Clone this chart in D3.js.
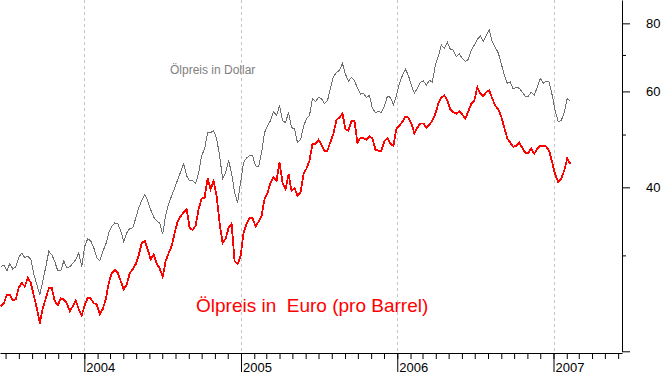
<!DOCTYPE html>
<html>
<head>
<meta charset="utf-8">
<script src="https://cdn.jsdelivr.net/npm/d3@7"></script>
<style>
  body { margin: 0; background: #fff; }
  svg { display: block; font-family: "Liberation Sans", Arial, sans-serif; }
</style>
</head>
<body>
<svg id="chart" width="663" height="373"></svg>
<script>
(function () {
  "use strict";

  // weekly closes, first week ending 2003-06-20
  const firstWeek = new Date(2003, 5, 20);

  // Ölpreis in Dollar (grau)
  const usd = [
    28.6, 28.8, 28.1, 29.0, 28.3, 28.6, 29.8, 30.3, 29.7, 29.9,
    29.5, 27.7, 26.5, 25.4, 26.9, 28.6, 30.5, 30.1, 29.2, 28.1,
    28.1, 29.3, 28.5, 28.6, 29.0, 29.5, 30.3, 28.6, 31.2, 32.2,
    31.9, 31.0, 29.7, 29.3, 30.5, 31.4, 33.0, 33.9, 34.4, 34.3,
    33.3, 31.8, 33.0, 33.6, 33.7, 35.1, 36.7, 37.8, 38.8, 37.8,
    36.4, 35.3, 34.7, 34.4, 32.8, 35.6, 37.3, 38.6, 39.9, 41.3,
    42.7, 44.2, 42.0, 41.1, 41.1, 40.6, 42.5, 45.7, 47.1, 50.4,
    50.4, 50.8, 49.2, 45.7, 41.5, 42.5, 44.8, 42.5, 39.1, 37.5,
    40.8, 44.4, 45.3, 45.7, 45.7, 43.8, 43.6, 46.3, 50.4, 51.9,
    53.0, 55.1, 54.2, 56.5, 53.0, 52.6, 54.9, 51.5, 51.2, 48.3,
    48.9, 51.7, 53.5, 54.2, 58.2, 57.5, 58.5, 58.2, 57.0, 57.7,
    60.8, 63.9, 65.0, 65.6, 67.5, 64.5, 62.7, 63.6, 62.9, 60.8,
    59.3, 59.5, 58.5, 59.0, 55.8, 54.9, 55.1, 54.9, 56.3, 58.8,
    58.5, 56.7, 59.0, 62.1, 64.2, 65.9, 64.2, 61.6, 59.5, 60.8,
    62.4, 62.7, 61.6, 62.9, 62.4, 67.0, 69.6, 73.0, 72.0, 73.9,
    71.7, 71.4, 69.6, 70.3, 69.0, 68.1, 68.7, 71.4, 73.0, 74.8,
    75.8, 74.2, 76.1, 77.8, 73.9, 72.3, 70.6, 67.5, 64.2, 62.1,
    62.4, 60.6, 61.1, 60.8, 59.8, 58.8, 58.8, 59.8, 59.0, 61.1,
    63.4, 62.1, 62.7, 62.4, 59.0, 55.3, 52.8, 53.0, 54.9, 58.2,
    57.7
  ];

  // Ölpreis in Euro (rot)
  const eur = [
    24.2, 24.5, 25.4, 25.4, 24.8, 24.9, 26.2, 26.7, 26.3, 27.3,
    26.7, 25.3, 24.0, 22.5, 24.0, 25.0, 26.1, 26.1, 24.7, 24.3,
    25.0, 24.9, 24.5, 23.7, 24.2, 24.8, 23.9, 23.3, 24.3, 25.1,
    25.0, 24.5, 24.4, 23.4, 23.9, 24.9, 26.7, 27.8, 28.2, 27.9,
    26.9, 26.0, 26.5, 27.8, 28.3, 28.9, 30.0, 31.6, 31.9, 30.8,
    29.5, 30.1, 29.0, 28.4, 27.4, 29.3, 30.3, 31.2, 33.0, 34.6,
    35.4, 36.0, 36.5, 33.7, 33.4, 34.0, 36.5, 38.1, 38.3, 41.5,
    39.7, 41.1, 38.6, 34.4, 31.6, 32.2, 33.7, 34.3, 29.3, 28.9,
    29.9, 33.0, 34.3, 35.2, 35.1, 33.9, 34.6, 35.4, 38.1, 39.1,
    40.8, 41.7, 41.1, 44.4, 40.8, 39.7, 42.3, 39.4, 39.9, 38.6,
    39.1, 42.3, 43.3, 44.8, 48.1, 48.1, 48.9, 47.9, 46.7, 46.7,
    48.5, 50.2, 53.2, 53.7, 54.6, 51.2, 50.8, 53.0, 53.0, 48.3,
    49.3, 49.2, 48.9, 49.6, 49.2, 46.9, 46.7, 46.7, 48.7, 49.2,
    48.1, 47.7, 51.2, 51.9, 52.8, 53.9, 53.7, 52.4, 50.2, 51.5,
    52.4, 52.4, 51.5, 52.1, 53.0, 54.6, 57.0, 58.5, 59.0, 57.7,
    55.6, 54.9, 54.6, 55.1, 54.4, 53.5, 55.1, 57.0, 57.7, 61.1,
    59.5, 58.8, 59.8, 60.3, 58.2, 56.5, 55.6, 53.9, 51.5, 49.2,
    48.3, 47.5, 47.7, 48.3, 47.3, 46.3, 46.3, 47.1, 46.1, 47.1,
    47.7, 47.7, 47.5, 46.7, 44.4, 42.2, 40.9, 41.5, 42.9, 45.2,
    44.2
  ];

  const priceTicks = [20, 30, 40, 50, 60, 70, 80];
  const priceMajor = [20, 40, 60, 80];
  const priceLabels = [40, 60, 80];
  const years = [2004, 2005, 2006, 2007];

  const dates = usd.map((_, i) => d3.timeDay.offset(firstWeek, 7 * i));

  const svg = d3.select("#chart");
  const plotRight = 622;
  const axisY = 353;

  svg.append("rect").attr("width", 663).attr("height", 373).attr("fill", "#fff");

  const x = d3.scaleTime()
    .domain([new Date(2003, 5, 18), new Date(2007, 5, 10)])
    .range([0, plotRight]);
  const y = d3.scaleLog()
    .domain([20, 88.3])
    .range([351.3, 0]);

  // Jahres-Gitterlinien
  svg.append("g").selectAll("line")
    .data(years)
    .join("line")
    .attr("x1", (d) => Math.round(x(new Date(d, 0, 1))) + 0.5)
    .attr("x2", (d) => Math.round(x(new Date(d, 0, 1))) + 0.5)
    .attr("y1", 0)
    .attr("y2", axisY)
    .attr("stroke", "#c4c4c4")
    .attr("stroke-dasharray", "3,3");

  const line = d3.line()
    .x((d, i) => x(dates[i]))
    .y((d) => y(d));

  svg.append("path")
    .datum(usd)
    .attr("fill", "none")
    .attr("stroke", "#6f6f6f")
    .attr("stroke-width", 1)
    .attr("shape-rendering", "crispEdges")
    .attr("d", line);

  svg.append("path")
    .datum(eur)
    .attr("fill", "none")
    .attr("stroke", "#ff0000")
    .attr("stroke-width", 1.8)
    .attr("shape-rendering", "crispEdges")
    .attr("d", line);

  svg.append("text")
    .attr("x", 170)
    .attr("y", 74)
    .attr("fill", "#808080")
    .attr("font-size", 12)
    .text("Ölpreis in Dollar");

  svg.append("text")
    .attr("x", 196)
    .attr("y", 312)
    .attr("fill", "#ff0000")
    .attr("font-size", 19)
    .style("white-space", "pre")
    .text("Ölpreis in  Euro (pro Barrel)");

  // x-Achse: Monatsstriche
  const xMonths = svg.append("g")
    .attr("transform", `translate(0,${axisY})`)
    .call(d3.axisBottom(x)
      .ticks(d3.timeMonth.every(1))
      .tickSize(6)
      .tickSizeOuter(0)
      .tickFormat(""));
  xMonths.select(".domain").attr("stroke", "#000");

  // x-Achse: Jahre
  const xYears = svg.append("g")
    .attr("transform", `translate(0,${axisY})`)
    .call(d3.axisBottom(x)
      .tickValues(years.map((d) => new Date(d, 0, 1)))
      .tickSize(19)
      .tickFormat(d3.timeFormat("%Y")));
  xYears.select(".domain").remove();
  xYears.attr("font-size", 13).attr("font-family", null);
  xYears.selectAll(".tick text")
    .attr("text-anchor", "start")
    .attr("x", 1.5)
    .attr("y", 18.5)
    .attr("dy", 0);

  // rechte Preisachse (log)
  const yAxis = svg.append("g")
    .attr("transform", `translate(${plotRight},0)`)
    .call(d3.axisRight(y)
      .tickValues(priceTicks)
      .tickSize(4)
      .tickSizeOuter(0)
      .tickFormat((d) => (priceLabels.includes(d) ? d : "")));
  yAxis.attr("font-size", 13).attr("font-family", null);
  yAxis.selectAll(".tick line").attr("x2", (d) => (priceMajor.includes(d) ? 8 : 4));
  yAxis.selectAll(".tick text").attr("x", 24).attr("dy", "0.35em");
})();
</script>
</body>
</html>
